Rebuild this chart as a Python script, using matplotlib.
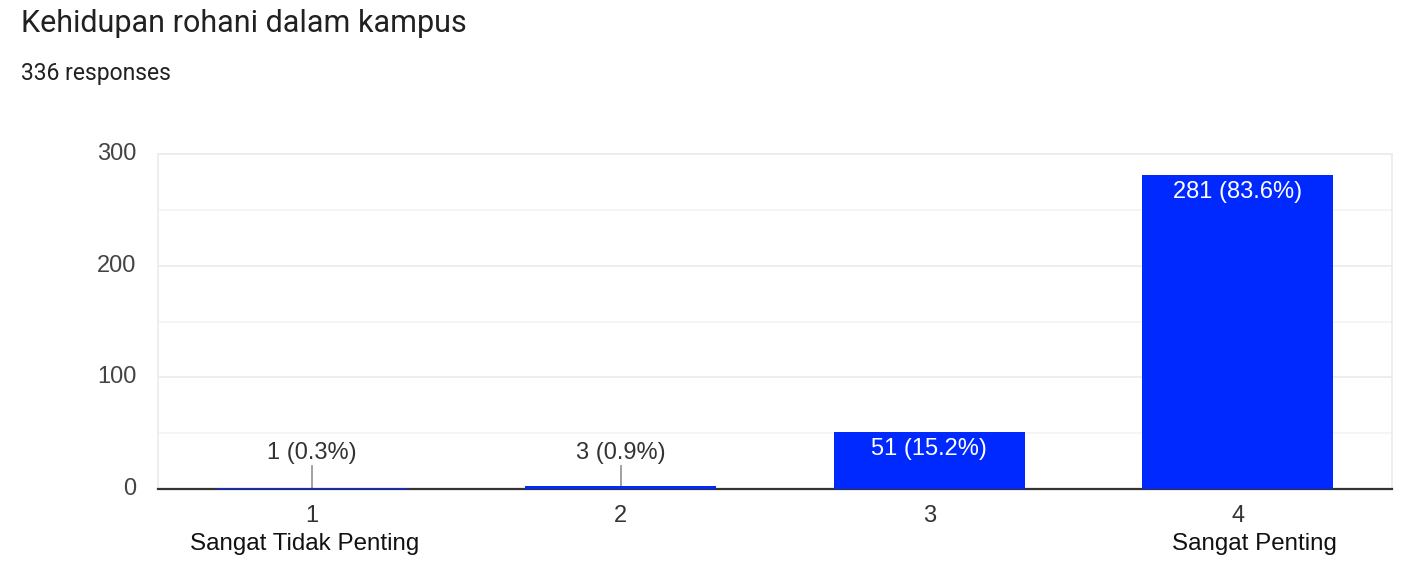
import matplotlib.pyplot as plt
from matplotlib.ticker import MultipleLocator

title = "Kehidupan rohani dalam kampus"
subtitle = "336 responses"
categories = ["1", "2", "3", "4"]
counts = [1, 3, 51, 281]
percents = [0.3, 0.9, 15.2, 83.6]
end_labels = {0: "Sangat Tidak Penting", 3: "Sangat Penting"}

bar_color = "#0029ff"
text_color = "#333333"

fig = plt.figure(figsize=(14.02, 5.65), dpi=100)
ax = fig.add_axes([158 / 1402, 76 / 565, 1234 / 1402, 335 / 565])

x = range(len(categories))
# bars drawn above the bottom spine so the 1-response bar stays visible
ax.bar(x, counts, width=0.62, color=bar_color, zorder=5)

ax.set_xlim(-0.5, len(categories) - 0.5)
ax.set_ylim(0, 300)
ax.yaxis.set_major_locator(MultipleLocator(100))
ax.yaxis.set_minor_locator(MultipleLocator(50))
ax.grid(axis="y", which="major", color="#ebebeb", lw=1.2, zorder=0)
ax.grid(axis="y", which="minor", color="#f3f3f3", lw=1.2, zorder=0)

for side in ["left", "right", "top"]:
    ax.spines[side].set_color("#ebebeb")
    ax.spines[side].set_linewidth(1.2)
ax.spines["bottom"].set_color("#333333")
ax.spines["bottom"].set_linewidth(1.6)
ax.spines["bottom"].set_zorder(4)

ax.tick_params(axis="both", which="both", length=0)
ax.set_yticklabels([])
for v in [0, 100, 200, 300]:
    ax.text(-0.0175, v, str(v), transform=ax.get_yaxis_transform(),
            ha="right", va="center", fontsize=17, color="#444444",
            family="Liberation Sans")
ax.set_xticks([])

for i, (c, p) in enumerate(zip(counts, percents)):
    lab = f"{c} ({p}%)"
    if c < 20:
        ax.plot([i, i], [c, 21], color="#999999", lw=1.3, zorder=4)
        ax.text(i, 22, lab, ha="center", va="bottom", fontsize=17,
                color=text_color, family="Liberation Sans")
    else:
        ax.text(i, c - 5, lab, ha="center", va="top", fontsize=17,
                color="white", family="Liberation Sans", zorder=6)

for i, cat in enumerate(categories):
    ax.text(i, -0.08, cat, transform=ax.get_xaxis_transform(), ha="center",
            va="center", fontsize=17, color=text_color, family="Liberation Sans")
shift = {0: -0.025, 3: 0.055}
for i, lab in end_labels.items():
    ax.text(i + shift[i], -0.165, lab, transform=ax.get_xaxis_transform(),
            ha="center", va="center", fontsize=17.4, color="#111111",
            family="Liberation Sans")

fig.text(21 / 1402, 1 - 23 / 565, title, fontsize=22, color="#212121",
         family="Roboto", va="center")
fig.text(21 / 1402, 1 - 73 / 565, subtitle, fontsize=16.5, color="#212121",
         family="Roboto", va="center")

fig.savefig("out.png", dpi=100)
